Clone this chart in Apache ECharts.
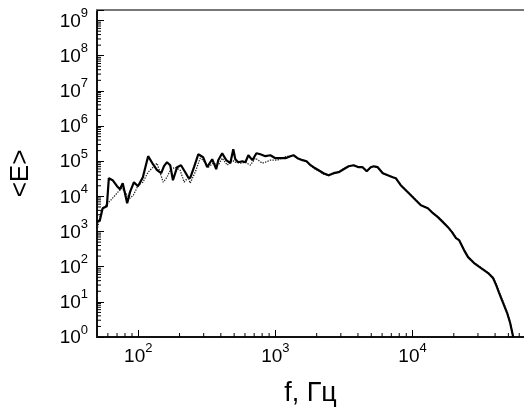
<!DOCTYPE html>
<html>
<head>
<meta charset="utf-8">
<script src="https://cdn.jsdelivr.net/npm/echarts@6/dist/echarts.min.js"></script>
<style>
  html, body { margin: 0; padding: 0; background: #fff; }
  #chart { width: 524px; height: 410px; }
</style>
</head>
<body>
<div id="chart"></div>
<script>
// Spectrum of <E> versus frequency, log-log axes
const solidF = [50, 52.5, 55, 59, 61, 65, 70, 73.5, 77, 83, 87, 93, 99.5, 108, 118, 128, 137, 147, 154, 162,
  171, 179, 192, 205, 220, 231, 239, 255, 274, 297, 318, 346, 370, 383, 409, 438, 469, 493, 510, 536,
  574, 604, 635, 679, 727, 777, 845, 919, 1000, 1087, 1183, 1288, 1355, 1449, 1577, 1687, 1804, 1898,
  2065, 2246, 2443, 2657, 2891, 3143, 3420, 3720, 4046, 4326, 4634, 4955, 5212, 5572, 6067, 6597,
  7178, 7551, 8204, 8933, 9724, 10570, 11500, 12940, 14090, 15310, 16660, 18130, 19410, 20750, 21830,
  23750, 25400, 28100, 31620, 35570, 38730, 40740, 42850, 45810, 48980, 51520, 54200];
const solidE = [1850, 2110, 4620, 5270, 32900, 28800, 19500, 16000, 23700, 6410, 13200, 25300, 19500, 35100,
  139000, 82200, 55500, 45600, 72100, 93700, 77000, 28800, 67600, 77000, 48700, 35100, 32900, 67600,
  158000, 130000, 67600, 114000, 59300, 107000, 169000, 107000, 87700, 219000, 114000, 93700, 100000,
  93700, 148000, 107000, 169000, 158000, 139000, 148000, 122000, 122000, 122000, 139000, 148000, 122000,
  107000, 100000, 77000, 67600, 55500, 45600, 40000, 45600, 48700, 59300, 72100, 77000, 67600, 67600,
  52000, 67600, 72100, 67600, 45600, 40000, 35100, 32900, 20800, 15000, 10800, 7800, 5620, 4620, 3330,
  2570, 1850, 1330, 961, 650, 570, 296, 187, 127, 91, 66, 47, 30, 17.8, 9.25, 4.8, 2.5, 1];

const dottedF = [50, 54, 60, 65, 71, 76, 83, 87, 92, 100, 108, 118, 126, 137, 152, 162, 171, 185, 202, 216,
  231, 239, 260, 283, 297, 324, 352, 383, 409, 446, 485, 510, 555, 604, 656, 714, 803, 845, 919, 1035,
  1145, 1245, 1355, 1449, 1577, 1687, 1804, 1898, 2065, 2246, 2443, 2657, 2891, 3143, 3420, 3720, 4046,
  4326, 4634, 4955, 5212, 5572, 6067, 6597, 7178, 7551, 8204, 8933, 9724, 10570, 11500, 12940, 14090,
  15310, 16660, 18130, 19410, 20750, 21830, 23750, 25400, 28100, 31620, 35570, 38730, 40740, 42850,
  45810, 48980, 51520, 54300];
const dottedE = [1100, 4050, 6410, 8890, 13200, 17100, 10800, 8890, 10800, 20800, 25300, 48700, 63200, 87700,
  25300, 35100, 55500, 67600, 55500, 25300, 35100, 23700, 48700, 122000, 107000, 67600, 87700, 77000,
  122000, 77000, 107000, 93700, 87700, 93700, 77000, 122000, 87700, 93700, 107000, 107000, 130000,
  139000, 145000, 120000, 105000, 98000, 76000, 64000, 53000, 43000, 39000, 44000, 50000, 61000, 73000,
  76000, 68000, 66000, 53000, 66000, 71000, 66000, 46000, 40000, 35000, 32000, 21000, 15200, 11000,
  7900, 5700, 4600, 3400, 2600, 1900, 1350, 980, 660, 580, 300, 192, 130, 94, 68, 50, 32, 19, 10, 5.2,
  2.7, 1];

// Axis ranges and tick marks
const xRange = [50, 65000];
const yRange = [1, 2e9];
const xMinorTicks = [60, 70, 80, 90, 200, 300, 400, 500, 600, 700, 800, 900,
  2000, 3000, 4000, 5000, 6000, 7000, 8000, 9000, 20000, 30000, 40000, 50000, 60000];
const yMinorSteps = [2, 3, 4, 5, 6, 7, 8, 9];
const yDecades = [1, 10, 100, 1e3, 1e4, 1e5, 1e6, 1e7, 1e8];
const yMinorTicks = [];
yDecades.forEach(d => yMinorSteps.forEach(m => yMinorTicks.push(m * d)));

const zip = (a, b) => a.map((v, i) => [v, b[i]]);

const FONT = 'Liberation Sans, Arial, sans-serif';
const powRich = {
  b: { fontSize: 19, lineHeight: 21, fontFamily: FONT, color: '#000', verticalAlign: 'bottom' },
  s: { fontSize: 13, lineHeight: 13, fontFamily: FONT, color: '#000', verticalAlign: 'bottom', padding: [0, 0, 11, 0] }
};
function powLabel(v) {
  const lg = Math.log10(v);
  const e = Math.round(lg);
  if (Math.abs(lg - e) > 1e-6) return '';
  return '{b|10}{s|' + e + '}';
}

function xMinorItem(params, api) {
  const p = api.coord([api.value(0), yRange[0]]);
  return { type: 'line', shape: { x1: p[0], y1: p[1], x2: p[0], y2: p[1] - 4 },
    style: { stroke: '#000', lineWidth: 1 } };
}
function yMinorItem(params, api) {
  const p = api.coord([xRange[0], api.value(1)]);
  return { type: 'line', shape: { x1: p[0], y1: p[1], x2: p[0] + 4, y2: p[1] },
    style: { stroke: '#000', lineWidth: 1 } };
}

const chart = echarts.init(document.getElementById('chart'), null, { renderer: 'canvas' });
chart.setOption({
  animation: false,
  backgroundColor: '#fff',
  grid: { left: 97, right: 0, top: 10, bottom: 73, containLabel: false, outerBoundsMode: 'none' },
  xAxis: [{
    type: 'log', logBase: 10, min: xRange[0], max: xRange[1],
    name: 'f, Гц', nameLocation: 'middle', nameGap: 43,
    nameTextStyle: { fontSize: 27, fontFamily: FONT, color: '#000' },
    axisLine: { lineStyle: { color: '#111', width: 2 } },
    axisTick: { inside: true, length: 7, lineStyle: { color: '#000', width: 1 } },
    axisLabel: { margin: 8, formatter: powLabel, rich: powRich, showMinLabel: false, showMaxLabel: false },
    splitLine: { show: false }, minorTick: { show: false }
  }, {
    type: 'log', logBase: 10, min: xRange[0], max: xRange[1], position: 'top',
    axisLine: { lineStyle: { color: '#777', width: 2 } },
    axisTick: { show: false }, axisLabel: { show: false }, splitLine: { show: false }
  }],
  yAxis: {
    type: 'log', logBase: 10, min: yRange[0], max: yRange[1],
    name: '<E>', nameLocation: 'middle', nameGap: 63,
    nameTextStyle: { fontSize: 26, fontFamily: FONT, color: '#000' },
    axisLine: { lineStyle: { color: '#111', width: 2 } },
    axisTick: { inside: true, length: 7, lineStyle: { color: '#000', width: 1 } },
    axisLabel: { margin: 9, formatter: powLabel, rich: powRich },
    splitLine: { show: false }
  },
  series: [
    { type: 'line', data: zip(dottedF, dottedE), showSymbol: false, symbol: 'none',
      lineStyle: { color: '#222', width: 1.3, type: 'dotted' }, z: 2 },
    { type: 'line', data: zip(solidF, solidE), showSymbol: false, symbol: 'none',
      lineStyle: { color: '#000', width: 2.2 }, z: 3 },
    { type: 'custom', data: xMinorTicks.map(v => [v, yRange[0]]), renderItem: xMinorItem, clip: false, silent: true, z: 4 },
    { type: 'custom', data: yMinorTicks.map(v => [xRange[0], v]), renderItem: yMinorItem, clip: false, silent: true, z: 4 }
  ]
});
</script>
</body>
</html>
